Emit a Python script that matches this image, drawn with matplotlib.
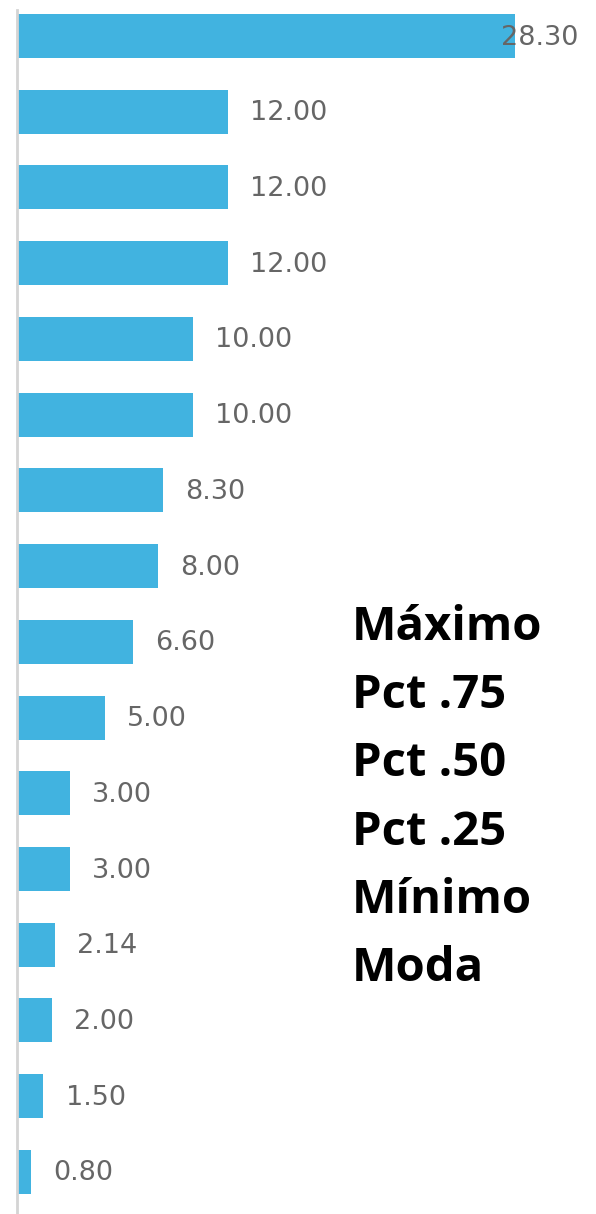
import numpy as np
import matplotlib
matplotlib.use("Agg")
import matplotlib.pyplot as plt

# valores de las barras (de arriba hacia abajo)
values = [28.30, 12.00, 12.00, 12.00, 10.00, 10.00, 8.30, 8.00,
          6.60, 5.00, 3.00, 3.00, 2.14, 2.00, 1.50, 0.80]
labels = [f"{v:.2f}" for v in values]
stats = ["Máximo", "Pct .75", "Pct .50", "Pct .25", "Mínimo", "Moda"]

W, H = 596, 1214
fig = plt.figure(figsize=(W / 100, H / 100), dpi=100)

# axes in pixel geometry
left_px, top_px = 17, 10
ax = fig.add_axes([left_px / W, 0, 1 - left_px / W, 1 - top_px / H])

px_per_unit = (515 - left_px) / 28.3
spacing = 75.73
y0 = 36
ax.set_xlim(0, (W - left_px) / px_per_unit)
ax.set_ylim((H - y0) / spacing, (top_px - y0) / spacing)

pos = np.arange(len(values))
ax.barh(pos, values, height=44 / spacing, color="#41b3e0", edgecolor="none")

xmax_label = (W - left_px - 96) / px_per_unit
for i, (v, lab) in enumerate(zip(values, labels)):
    if v > xmax_label:
        ax.text(xmax_label + 0.05, i + 0.02, lab, va="center", ha="left",
                fontsize=19.5, color="#666666", family="DejaVu Sans")
    else:
        ax.annotate(lab, (v, i + 0.02), xytext=(16, 0), textcoords="offset points",
                    va="center", ha="left", fontsize=19.5, color="#666666",
                    family="DejaVu Sans")

for s in ["top", "right", "bottom"]:
    ax.spines[s].set_visible(False)
ax.spines["left"].set_color("#d4d4d4")
ax.spines["left"].set_linewidth(2)
ax.set_xticks([])
ax.set_yticks([])

baseline0 = 640
line_gap = 68.2
for k, s in enumerate(stats):
    fig.text(352 / W, 1 - (baseline0 + k * line_gap) / H, s, ha="left",
             va="baseline", fontsize=34, fontweight="bold", color="black",
             family="Open Sans")

fig.savefig("out.png", dpi=100)
